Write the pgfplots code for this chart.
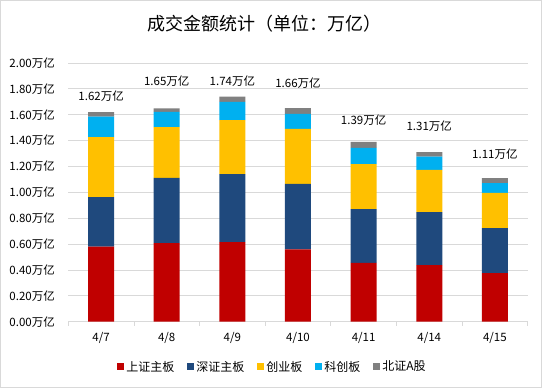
\documentclass[border=0pt]{standalone}
\usepackage{fontspec}
\setmainfont{Noto Sans CJK SC}
\usepackage{pgfplots}
\pgfplotsset{compat=1.18}
\definecolor{cRed}{HTML}{C00000}
\definecolor{cNavy}{HTML}{1F497D}
\definecolor{cYel}{HTML}{FFC000}
\definecolor{cBlu}{HTML}{00B0F0}
\definecolor{cGry}{HTML}{808080}
\definecolor{cGrid}{HTML}{D9D9D9}
\begin{document}
\begin{tikzpicture}
\draw[cGrid, line width=1bp] (0.5bp,0.5bp) rectangle (541.5bp,387.5bp);
\begin{axis}[
  at={(68.3bp,66.3bp)}, anchor=south west,
  scale only axis, width=459.4bp, height=258.7bp,
  ybar stacked, bar width=26bp,
  xmin=-0.5, xmax=6.5, ymin=0, ymax=2,
  xtick={0,1,2,3,4,5,6},
  xticklabels={4/7,4/8,4/9,4/10,4/11,4/14,4/15},
  major x tick style={draw=none},
  extra x ticks={-0.5,0.5,1.5,2.5,3.5,4.5,5.5,6.5},
  extra x tick labels={},
  extra x tick style={tick align=outside, major tick length=4bp, major x tick style={draw=cGrid, line width=0.75bp}},
  ytick={0,0.2,0.4,0.6,0.8,1.0,1.2,1.4,1.6,1.8,2.0},
  yticklabel={\pgfmathprintnumber[fixed,fixed zerofill,precision=2]{\tick}万亿},
  /pgf/number format/assume math mode=true,
  ymajorgrids, grid style={draw=cGrid, line width=0.75bp},
  axis x line*=bottom, axis y line*=left,
  x axis line style={draw=cGrid, line width=1bp, -},
  y axis line style={draw=none},
  ytick style={draw=none},
  tick label style={font=\fontsize{11.5bp}{13bp}\selectfont, text=black},
  yticklabel style={xshift=-10bp},
  xticklabel style={yshift=-7bp},
  title={成交金额统计（单位：万亿）},
  title style={at={(0.428,1.1295)}, anchor=center, font=\fontsize{18bp}{20bp}\selectfont},
  legend columns=5,
  legend style={at={(0.4445,-0.174)}, anchor=center, draw=none, fill=none,
    font=\fontsize{12bp}{13bp}\selectfont,
    /tikz/every even column/.append style={column sep=11bp}},
  legend image code/.code={\fill[#1] (1bp,-3.5bp) rectangle (8bp,3.5bp);},
]
\addplot[fill=cRed, draw=none] coordinates {(0,0.580) (1,0.608) (2,0.616) (3,0.560) (4,0.454) (5,0.438) (6,0.376)};
\addplot[fill=cNavy, draw=none] coordinates {(0,0.384) (1,0.503) (2,0.524) (3,0.505) (4,0.417) (5,0.410) (6,0.348)};
\addplot[fill=cYel, draw=none] coordinates {(0,0.462) (1,0.394) (2,0.419) (3,0.425) (4,0.348) (5,0.325) (6,0.271)};
\addplot[fill=cBlu, draw=none] coordinates {(0,0.159) (1,0.118) (2,0.140) (3,0.116) (4,0.124) (5,0.103) (6,0.077)};
\addplot[fill=cGry, draw=none] coordinates {(0,0.035) (1,0.027) (2,0.041) (3,0.046) (4,0.047) (5,0.034) (6,0.038)};
\legend{上证主板,深证主板,创业板,科创板,北证A股}
\end{axis}
\begin{axis}[
  at={(68.3bp,66.3bp)}, anchor=south west,
  scale only axis, width=459.4bp, height=258.7bp,
  xmin=-0.5, xmax=6.5, ymin=0, ymax=2,
  hide axis, clip=false,
]
\addplot[draw=none, mark=none, nodes near coords, point meta=explicit symbolic,
  every node near coord/.append style={anchor=center, inner sep=0pt, text=black,
    font=\fontsize{11.5bp}{13bp}\selectfont}]
  coordinates {(0,1.747) [1.62万亿] (1,1.861) [1.65万亿] (2,1.861) [1.74万亿]
    (3,1.843) [1.66万亿] (4,1.559) [1.39万亿] (5,1.513) [1.31万亿] (6,1.296) [1.11万亿]};
\end{axis}
\end{tikzpicture}
\end{document}
